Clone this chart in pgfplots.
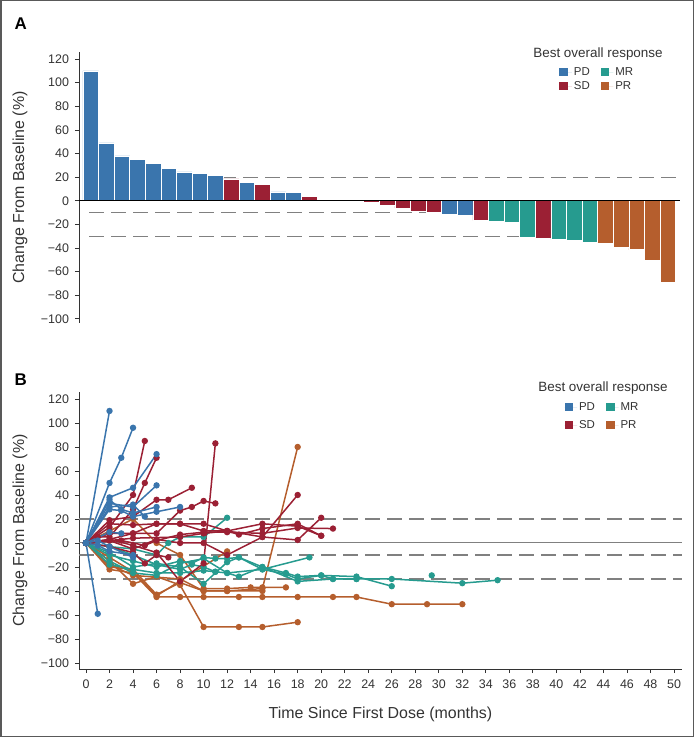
\documentclass[border=0pt]{standalone}
\usepackage{fontspec}
\setmainfont{Liberation Sans}
\usepackage{pgfplots}
\pgfplotsset{compat=1.18}
\definecolor{pd}{RGB}{58,117,173}
\definecolor{sd}{RGB}{155,32,52}
\definecolor{mr}{RGB}{38,155,143}
\definecolor{pr}{RGB}{181,94,45}
\definecolor{axgray}{RGB}{51,51,51}
\definecolor{refgray}{RGB}{128,128,128}
\tikzset{refl/.style={refgray, dash pattern=on 15bp off 7bp, line width=1.3bp}}
\pgfplotsset{
  pdl/.style={pd, line width=1.5bp, mark=*, mark size=2.4bp, mark options={solid}},
  sdl/.style={sd, line width=1.5bp, mark=*, mark size=2.4bp, mark options={solid}},
  mrl/.style={mr, line width=1.5bp, mark=*, mark size=2.4bp, mark options={solid}},
  prl/.style={pr, line width=1.5bp, mark=*, mark size=2.4bp, mark options={solid}},
  sqleg/.style={legend image code/.code={\fill[##1] (0bp,-4.3bp) rectangle (8.6bp,4.3bp); \path (0bp,0bp) -- (12.5bp,0bp);}},
}
\begin{document}
\begin{tikzpicture}
\useasboundingbox (0,0) rectangle (694bp,737bp);
\draw[line width=1.5bp, color=black!65] (0.75bp,0.75bp) rectangle (693.25bp,736.25bp);

% ---------------- Panel A ----------------
\begin{axis}[
  at={(79bp,414bp)}, anchor=south west,
  scale only axis, width=601bp, height=271bp,
  xmin=0.244, xmax=38.77, ymin=-103.5, ymax=126,
  axis x line=none, axis y line=left,
  axis line style={-, axgray, line width=1bp},
  ytick={-100,-80,...,120},
  yticklabels={−100,−80,−60,−40,−20,0,20,40,60,80,100,120},
  tick align=outside, major tick length=4bp,
  tick style={axgray, line width=0.8bp},
  yticklabel style={font=\fontsize{12.5}{14}\selectfont, text=axgray, xshift=-2.5bp},
  ylabel={Change From Baseline (\%)},
  ylabel style={font=\fontsize{16}{18}\selectfont, text=axgray, at={(axis description cs:-0.098,0.5)}, anchor=center},
  clip=false,
  sqleg,
  legend style={at={(0.799,0.951)}, anchor=north west, draw=none, fill=none, inner sep=0pt,
    font=\fontsize{11.5}{13}\selectfont, text=axgray,
    /tikz/every even column/.append style={column sep=9bp}, row sep=0.5bp},
  legend columns=2, legend cell align=left,
]
\addlegendimage{fill=pd, draw=none}
\addlegendimage{fill=mr, draw=none}
\addlegendimage{fill=sd, draw=none}
\addlegendimage{fill=pr, draw=none}
\legend{PD,MR,SD,PR}

\draw[refl] (axis cs:0.9,20) -- (axis cs:38.77,20);
\draw[refl] (axis cs:0.9,-10) -- (axis cs:38.77,-10);
\draw[refl] (axis cs:0.9,-30) -- (axis cs:38.77,-30);

\addplot[ybar, bar width=1, bar shift=0pt, fill=pd, draw=white, line width=0.6bp, forget plot] coordinates {
 (1,110) (2,49) (3,38) (4,35) (5,31.5) (6,27.5) (7,24.5) (8,23) (9,21.5)
 (11,15.7) (13,7.5) (14,7) (24,-11.5) (25,-12.5)};
\addplot[ybar, bar width=1, bar shift=0pt, fill=sd, draw=white, line width=0.6bp, forget plot] coordinates {
 (10,18.5) (12,14) (15,4) (19,-1.2) (20,-4) (21,-6) (22,-8.5) (23,-10) (26,-16.5) (30,-32)};
\addplot[ybar, bar width=1, bar shift=0pt, fill=mr, draw=white, line width=0.6bp, forget plot] coordinates {
 (27,-17.5) (28,-18) (29,-31) (31,-33) (32,-33.5) (33,-35)};
\addplot[ybar, bar width=1, bar shift=0pt, fill=pr, draw=white, line width=0.6bp, forget plot] coordinates {
 (34,-36) (35,-39) (36,-41.5) (37,-50.5) (38,-69)};

\draw[black, line width=1.1bp] (axis cs:0.244,0) -- (axis cs:38.77,0);
\end{axis}

\node[anchor=base, font=\fontsize{13.5}{15}\selectfont, text=axgray] at (598bp,679.7bp) {Best overall response};
\node[anchor=base west, font=\fontsize{17}{20}\selectfont\bfseries] at (11bp,707bp) {A};

% ---------------- Panel B ----------------
\begin{axis}[
  at={(79bp,68bp)}, anchor=south west,
  scale only axis, width=603bp, height=277bp,
  xmin=-0.595, xmax=50.68, ymin=-105, ymax=125.8,
  axis x line=bottom, axis y line=left,
  axis line style={-, axgray, line width=1bp},
  xtick={0,2,...,50},
  ytick={-100,-80,...,120},
  yticklabels={−100,−80,−60,−40,−20,0,20,40,60,80,100,120},
  /pgf/number format/assume math mode=true,
  tick align=outside, major tick length=4bp,
  tick style={axgray, line width=0.8bp},
  yticklabel style={font=\fontsize{12.5}{14}\selectfont, text=axgray, xshift=-2.5bp},
  xticklabel style={font=\fontsize{12.5}{14}\selectfont, text=axgray, yshift=-3bp},
  ylabel={Change From Baseline (\%)},
  ylabel style={font=\fontsize{16}{18}\selectfont, text=axgray, at={(axis description cs:-0.098,0.5)}, anchor=center},
  xlabel={Time Since First Dose (months)},
  xlabel style={font=\fontsize{16}{18}\selectfont, text=axgray, at={(axis description cs:0.5,-0.162)}, anchor=center},
  clip=false,
  sqleg,
  legend style={at={(0.805,0.97)}, anchor=north west, draw=none, fill=none, inner sep=0pt,
    font=\fontsize{11.5}{13}\selectfont, text=axgray,
    /tikz/every even column/.append style={column sep=9bp}, row sep=4.5bp},
  legend columns=2, legend cell align=left,
]
\addlegendimage{fill=pd, draw=none}
\addlegendimage{fill=mr, draw=none}
\addlegendimage{fill=sd, draw=none}
\addlegendimage{fill=pr, draw=none}
\legend{PD,MR,SD,PR}

\draw[refgray, line width=1bp] (axis cs:-0.595,0) -- (axis cs:50.68,0);
\draw[refl] (axis cs:-0.595,20) -- (axis cs:50.68,20);
\draw[refl] (axis cs:-0.595,-10) -- (axis cs:50.68,-10);
\draw[refl] (axis cs:-0.595,-30) -- (axis cs:50.68,-30);

% PR
\addplot[prl, forget plot] coordinates {(0,0) (2,10) (4,20) (6,0) (8,-10) (10,-38) (12,-38) (14,-37) (15,-37) (17,-37)};
\addplot[prl, forget plot] coordinates {(0,0) (2,-20) (4,-22) (6,-43) (8,-33) (10,-40) (12,-40) (15,-38) (18,80)};
\addplot[prl, forget plot] coordinates {(0,0) (2,-22) (4,-25) (6,-45) (8,-45) (10,-45) (13,-45) (15,-45) (18,-45) (21,-45) (23,-45) (26,-51) (29,-51) (32,-51)};
\addplot[prl, forget plot] coordinates {(0,0) (2,-15) (4,-34) (6,-28) (8,-35) (10,-70) (13,-70) (15,-70) (18,-66)};
\addplot[prl, forget plot] coordinates {(0,0) (2,-12) (4,-24) (6,-44) (12,-7)};
\addplot[prl, forget plot] coordinates {(0,0) (2,-18) (4,-27) (8,-30) (10,-40) (12,-40) (15,-40)};
% MR
\addplot[mrl, forget plot] coordinates {(0,0) (2,-3) (4,-5) (6,-10) (7,0) (8,5) (10,5) (12,21)};
\addplot[mrl, forget plot] coordinates {(0,0) (2,-10) (4,-15) (6,-20) (8,-15) (9,-17) (10,-12) (11,-13) (12,-13) (13,-12) (15,-20) (17,-25) (18,-28) (20,-27) (21,-30) (23,-30) (26,-30) (32,-33.5) (35,-31)};
\addplot[mrl, forget plot] coordinates {(0,0) (2,-18) (4,-22) (6,-25) (8,-25) (10,-23) (11,-24) (12,-25) (15,-22) (17,-26) (18,-30) (20,-27) (23,-28) (26,-36)};
\addplot[mrl, forget plot] coordinates {(0,0) (2,-8) (4,-20) (6,-17) (8,-20) (10,-34) (12,-16) (13,-12) (15,-22) (19,-12)};
\addplot[mrl, forget plot] coordinates {(0,0) (2,-15) (4,-25) (6,-27) (8,-17) (10,-13) (12,-25) (13,-28) (15,-20) (18,-32) (21,-30) (23,-30)};
\addplot[mrl, forget plot] coordinates {(0,0) (2,-3) (4,-10) (6,-18) (8,-22) (9,-18) (10,-20) (11,-24)};
\addplot[mrl, only marks, forget plot] coordinates {(29.4,-27)};
% SD
\addplot[sdl, forget plot] coordinates {(0,0) (2,13) (4,40) (5,85)};
\addplot[sdl, forget plot] coordinates {(0,0) (1,5) (2,5) (4,28) (5,50) (6,71)};
\addplot[sdl, forget plot] coordinates {(0,0) (2,19) (4,22) (6,36) (7,36) (9,46)};
\addplot[sdl, forget plot] coordinates {(0,0) (2,16) (4,15) (6,16) (8,16) (10,16) (12,10) (13,7) (15,12) (18,16) (20,6)};
\addplot[sdl, forget plot] coordinates {(0,0) (2,3) (4,8) (6,8) (8,27) (9,30) (10,35) (11,33)};
\addplot[sdl, forget plot] coordinates {(0,0) (2,3) (4,-2) (6,-8) (8,-32) (10,-17) (11,83)};
\addplot[sdl, forget plot] coordinates {(0,0) (3,2) (5,-2) (6,2) (8,7) (10,9) (12,9) (15,8) (18,12.5) (21,12)};
\addplot[sdl, forget plot] coordinates {(0,0) (2,2) (4,-5) (6,3) (8,0) (10,0) (12,-10) (15,5) (18,40)};
\addplot[sdl, forget plot] coordinates {(0,0) (4,4) (8,5) (10,8) (12,10) (15,5) (18,2.5) (20,21)};
\addplot[sdl, forget plot] coordinates {(0,0) (2,8) (4,8) (6,16) (8,16) (10,10) (12,10) (15,16) (18,14) (20,6)};
\addplot[sdl, forget plot] coordinates {(0,0) (2,-3) (4,-8) (5,-17) (6,-10) (7,-12)};
% PD
\addplot[pdl, forget plot] coordinates {(0,0) (2,110)};
\addplot[pdl, forget plot] coordinates {(0,0) (2,50) (3,71) (4,96)};
\addplot[pdl, forget plot] coordinates {(0,0) (1,-59)};
\addplot[pdl, forget plot] coordinates {(0,0) (2,38) (4,46) (6,74)};
\addplot[pdl, forget plot] coordinates {(0,0) (2,33) (4,30) (6,48)};
\addplot[pdl, forget plot] coordinates {(0,0) (2,36) (3,28) (4,25) (6,30)};
\addplot[pdl, forget plot] coordinates {(0,0) (2,30) (4,32) (5,22)};
\addplot[pdl, forget plot] coordinates {(0,0) (2,28) (3,27) (4,22) (6,26) (8,30)};
\addplot[pdl, forget plot] coordinates {(0,0) (2,9) (3,8)};
\addplot[pdl, forget plot] coordinates {(0,0) (1,2) (2,-3) (4,-12)};
\addplot[pdl, forget plot] coordinates {(0,0) (1,-2) (2,-7) (4,-10)};
\end{axis}

\node[anchor=base, font=\fontsize{13.5}{15}\selectfont, text=axgray] at (603bp,345.3bp) {Best overall response};
\node[anchor=base west, font=\fontsize{17}{20}\selectfont\bfseries] at (11bp,351bp) {B};
\end{tikzpicture}
\end{document}
